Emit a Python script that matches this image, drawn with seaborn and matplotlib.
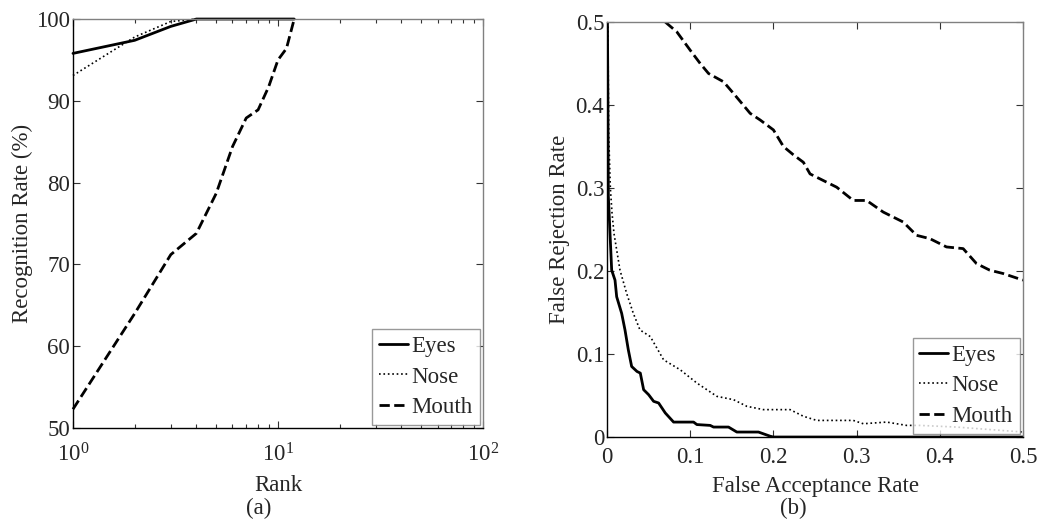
import numpy as np
import pandas as pd
import matplotlib
matplotlib.use('Agg')
from matplotlib import pyplot as plt
from matplotlib.ticker import FixedLocator, LogLocator, NullFormatter, FixedFormatter
import seaborn as sns

# (a) cumulative match curves
rank = [1, 2, 3, 4, 5, 6, 7, 8, 9, 10, 11, 12]
eyes_rr = [95.8, 97.4, 99.1, 100, 100, 100, 100, 100, 100, 100, 100, 100]
nose_rr = [93.1, 97.8, 99.7, 100, 100, 100, 100, 100, 100, 100, 100, 100]
mouth_rr = [52.3, 64.0, 71.2, 73.8, 78.7, 84.4, 87.9, 88.9, 91.7, 95.0, 96.4, 100]

# (b) FAR / FRR curves
eyes_far = [0.0005, 0.001, 0.0016, 0.0036, 0.0056, 0.0096, 0.0116, 0.0176, 0.0216,
            0.0256, 0.0296, 0.036, 0.040, 0.044, 0.050, 0.056, 0.062, 0.070, 0.080,
            0.104, 0.108, 0.124, 0.128, 0.146, 0.156, 0.182, 0.196, 0.2, 0.5]
eyes_frr = [0.5, 0.42, 0.29, 0.245, 0.201, 0.189, 0.169, 0.149, 0.129,
            0.105, 0.085, 0.079, 0.077, 0.057, 0.051, 0.043, 0.041, 0.029, 0.018,
            0.018, 0.015, 0.014, 0.012, 0.012, 0.006, 0.006, 0.001, 0.0, 0.0]
nose_far = [0.001, 0.002, 0.004, 0.006, 0.0084, 0.0156, 0.0236, 0.0316, 0.0396, 0.052,
            0.068, 0.088, 0.108, 0.132, 0.152, 0.168, 0.188, 0.22, 0.236, 0.252,
            0.296, 0.308, 0.336, 0.36, 0.376, 0.42, 0.46, 0.5]
nose_frr = [0.5, 0.365, 0.30, 0.27, 0.245, 0.201, 0.173, 0.149, 0.129, 0.121,
            0.093, 0.081, 0.065, 0.049, 0.045, 0.037, 0.033, 0.033, 0.025, 0.020,
            0.020, 0.016, 0.018, 0.014, 0.014, 0.012, 0.009, 0.006]
mouth_far = [0.07, 0.084, 0.1, 0.112, 0.122, 0.14, 0.152, 0.172, 0.184, 0.2, 0.212,
             0.224, 0.236, 0.244, 0.256, 0.276, 0.296, 0.312, 0.332, 0.356, 0.372,
             0.388, 0.408, 0.428, 0.444, 0.46, 0.476, 0.5]
mouth_frr = [0.5, 0.488, 0.466, 0.45, 0.438, 0.428, 0.414, 0.39, 0.382, 0.37, 0.35,
             0.34, 0.331, 0.317, 0.311, 0.301, 0.285, 0.285, 0.271, 0.259, 0.243,
             0.239, 0.229, 0.227, 0.209, 0.201, 0.197, 0.189]

sns.set_style("ticks")
plt.rcParams['font.family'] = ['Liberation Serif', 'DejaVu Serif']
plt.rcParams['mathtext.fontset'] = 'custom'
plt.rcParams['mathtext.rm'] = 'Liberation Serif'
plt.rcParams['mathtext.it'] = 'Liberation Serif:italic'
FS = 16.5
plt.rcParams['font.size'] = FS

styles = {'Eyes': dict(linestyle='-', linewidth=2.0),
          'Nose': dict(linestyle=':', linewidth=1.2),
          'Mouth': dict(linestyle='--', linewidth=2.0)}

fig = plt.figure(figsize=(10.38, 5.23), dpi=100)
ax1 = fig.add_axes([0.0703, 0.1816, 0.395, 0.782])
ax2 = fig.add_axes([0.5848, 0.1644, 0.4008, 0.7935])

df_a = pd.DataFrame({'Rank': rank * 3,
                     'Rate': eyes_rr + nose_rr + mouth_rr,
                     'Part': ['Eyes'] * len(rank) + ['Nose'] * len(rank) + ['Mouth'] * len(rank)})
for name in ['Eyes', 'Nose', 'Mouth']:
    sub = df_a[df_a['Part'] == name]
    sns.lineplot(data=sub, x='Rank', y='Rate', ax=ax1, color='black', label=name,
                 estimator=None, sort=False, clip_on=False, **styles[name])

curves_b = {'Eyes': (eyes_far, eyes_frr), 'Nose': (nose_far, nose_frr),
            'Mouth': (mouth_far, mouth_frr)}
for name, (far, frr) in curves_b.items():
    sub = pd.DataFrame({'FAR': far, 'FRR': frr})
    sns.lineplot(data=sub, x='FAR', y='FRR', ax=ax2, color='black', label=name,
                 estimator=None, sort=False, **styles[name])

# axis (a)
ax1.set_xscale('log')
ax1.set_xlim(1, 100)
ax1.set_ylim(50, 100)
ax1.xaxis.set_major_locator(FixedLocator([1, 10, 100]))
ax1.xaxis.set_major_formatter(FixedFormatter([r'$10^{0}$', r'$10^{1}$', r'$10^{2}$']))
ax1.xaxis.set_minor_locator(LogLocator(base=10, subs=np.arange(2, 10)))
ax1.xaxis.set_minor_formatter(NullFormatter())
ax1.set_yticks([50, 60, 70, 80, 90, 100])
ax1.set_xlabel('Rank')
ax1.set_ylabel('Recognition Rate (%)')
ax1.xaxis.set_label_coords(0.5, (428 - 485) / 409)
ax1.yaxis.set_label_coords((22 - 73) / 410, 0.5)

# axis (b)
ax2.set_xlim(0, 0.5)
ax2.set_ylim(0, 0.5)
ticks_b = [0, 0.1, 0.2, 0.3, 0.4, 0.5]
labels_b = ['0', '0.1', '0.2', '0.3', '0.4', '0.5']
ax2.set_xticks(ticks_b)
ax2.set_xticklabels(labels_b)
ax2.set_yticks(ticks_b)
ax2.set_yticklabels(labels_b)
ax2.set_xlabel('False Acceptance Rate')
ax2.set_ylabel('False Rejection Rate')
ax2.xaxis.set_label_coords(0.5, (437 - 486) / 415)
ax2.yaxis.set_label_coords((559 - 607) / 416, 0.5)

for ax in (ax1, ax2):
    ax.xaxis.label.set_va('center')
    ax.yaxis.label.set_va('center')
    ax.tick_params(which='both', direction='in', top=True, right=True,
                   color='#333333', labelsize=FS)
    ax.tick_params(axis='y', which='both', pad=2)
    ax.tick_params(axis='x', which='both', pad=7)
    ax.tick_params(which='major', length=5, width=0.8)
    ax.tick_params(which='minor', length=3, width=0.8)
    ax.spines['left'].set_color('black')
    ax.spines['bottom'].set_color('black')
    ax.spines['top'].set_color('#808080')
    ax.spines['right'].set_color('#808080')
    for s in ax.spines.values():
        s.set_linewidth(1.0)
    leg = ax.legend(loc='lower right', frameon=True, fancybox=False, fontsize=FS,
                    handlelength=1.25, handletextpad=0.15, labelspacing=0.4,
                    borderpad=0.3, borderaxespad=0.15)
    leg.get_frame().set_edgecolor('#808080')
    leg.get_frame().set_linewidth(1.0)

# the log labels sit a bit lower in the reference
ax1.tick_params(axis='x', which='both', pad=11)

fig.text(259 / 1038, 1 - 508 / 523, '(a)', ha='center', va='center', fontsize=FS)
fig.text(793 / 1038, 1 - 508 / 523, '(b)', ha='center', va='center', fontsize=FS)

fig.savefig('out.png', dpi=100)
